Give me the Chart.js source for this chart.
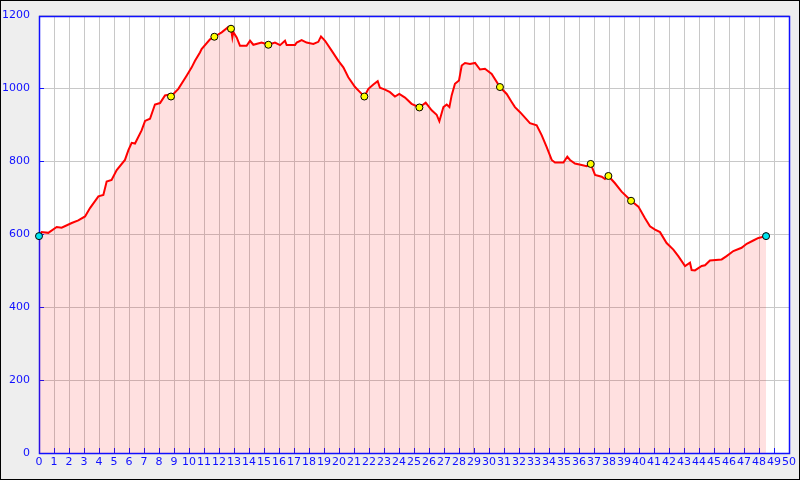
<!DOCTYPE html>
<html><head><meta charset="utf-8">
<script src="https://cdn.jsdelivr.net/npm/chart.js@4/dist/chart.umd.min.js"></script>
<style>html,body{margin:0;padding:0;background:#eeeeee;}canvas{display:block;}</style>
</head><body>
<canvas id="c" width="800" height="480"></canvas>
<script>
// distance along route (km)
const distKm = [0,0.18,0.62,1.18,1.51,2.18,2.62,3.07,3.4,3.96,4.29,4.51,4.84,5.18,5.73,5.96,6.18,6.4,6.84,7.07,7.4,7.73,8.07,8.4,8.62,8.8,9.29,9.84,10.18,10.4,10.73,10.84,11.4,11.69,12.18,12.62,12.8,12.89,12.95,13.18,13.4,13.84,14.07,14.29,14.84,15.29,15.73,16.07,16.4,16.51,17.07,17.18,17.51,17.84,18.29,18.62,18.8,19.07,19.51,19.96,20.29,20.62,21.07,21.4,21.69,21.96,22.29,22.58,22.73,23.07,23.4,23.73,24.02,24.4,24.84,25.36,25.78,26.18,26.51,26.69,26.96,27.18,27.36,27.51,27.73,28.0,28.18,28.4,28.73,29.07,29.4,29.73,30.18,30.73,31.18,31.51,31.73,32.07,32.73,33.18,33.51,33.84,34.18,34.4,34.96,35.22,35.4,35.73,36.18,36.51,36.78,37.07,37.51,37.73,37.96,38.4,38.84,39.47,39.96,40.4,40.73,41.07,41.4,41.84,42.29,42.62,43.07,43.4,43.51,43.73,44.18,44.4,44.73,45.51,45.84,46.29,46.84,47.18,47.62,47.96,48.47];
// elevation (m)
const elevM = [595,606,604,620,618,631,638,649,672,704,708,745,749,776,804,831,851,849,885,911,917,956,960,981,983,978,999,1035,1058,1076,1099,1108,1135,1142,1154,1169,1164,1140,1155,1140,1117,1117,1131,1120,1126,1120,1126,1119,1131,1119,1119,1126,1133,1126,1122,1128,1143,1131,1104,1076,1058,1031,1004,990,978,999,1011,1020,1002,997,990,978,985,975,958,948,961,940,928,910,949,956,949,981,1013,1022,1063,1070,1067,1070,1052,1054,1040,1004,985,963,949,935,905,899,872,840,804,797,797,813,804,794,790,787,793,763,758,752,760,740,717,692,676,644,622,613,606,576,558,540,513,522,502,501,513,515,528,531,540,554,563,574,583,590,595];
// waypoints
const wayKm = [8.8,11.69,12.8,15.29,21.69,25.36,30.73,36.78,37.96,39.47];
const wayM  = [978,1142,1164,1120,978,948,1004,793,760,692];
// start / end
const endKm = [0,48.47];
const endM  = [595,595];
// axis ticks
const xTicks = Array.from({length:51},(_,i)=>i);
const yTicks = [0,200,400,600,800,1000,1200];

const BLUE = '#1010ff';
const frame = {
  id:'frame',
  beforeDraw(ch){
    const c=ch.ctx, a=ch.chartArea;
    c.save();
    c.fillStyle='#eeeeee'; c.fillRect(0,0,800,480);
    c.strokeStyle='#000'; c.lineWidth=2; c.strokeRect(0,0,800,480);
    c.fillStyle='#ffffff'; c.fillRect(a.left,a.top,a.right-a.left,a.bottom-a.top);
    c.restore();
  },
  beforeDatasetsDraw(ch){
    const c=ch.ctx, a=ch.chartArea, xs=ch.scales.x, ys=ch.scales.y;
    c.save();
    c.strokeStyle=BLUE; c.lineWidth=1;
    c.beginPath();
    xTicks.forEach(v=>{const px=Math.round(xs.getPixelForValue(v))+0.5; c.moveTo(px,a.bottom); c.lineTo(px,a.bottom-5);});
    yTicks.forEach(v=>{const py=Math.round(ys.getPixelForValue(v))+0.5; c.moveTo(a.left,py); c.lineTo(a.left+5,py);});
    c.stroke();
    c.lineWidth=1.5;
    c.strokeRect(Math.round(a.left)+0.5,Math.round(a.top)+0.5,Math.round(a.right-a.left),Math.round(a.bottom-a.top));
    c.restore();
  }
};

new Chart(document.getElementById('c'),{
  type:'scatter',
  data:{datasets:[
    {type:'scatter',data:wayKm.map((x,i)=>({x,y:wayM[i]})),pointRadius:3.5,pointBackgroundColor:'#ffff00',pointBorderColor:'#000',pointBorderWidth:1,order:0,clip:false},
    {type:'scatter',data:endKm.map((x,i)=>({x,y:endM[i]})),pointRadius:3.5,pointBackgroundColor:'#00e5ee',pointBorderColor:'#000',pointBorderWidth:1,order:0,clip:false},
    {type:'line',data:distKm.map((x,i)=>({x,y:elevM[i]})),borderColor:'#ff0000',borderWidth:2,backgroundColor:'rgba(255,0,0,0.12)',fill:'origin',pointRadius:0,tension:0,order:1}
  ]},
  options:{
    responsive:false,animation:false,
    layout:{padding:{top:13,right:11,left:0,bottom:0}},
    plugins:{legend:{display:false},tooltip:{enabled:false}},
    scales:{
      x:{type:'linear',min:0,max:50,
        afterFit(s){s.height=27;},
        afterBuildTicks(s){s.ticks=xTicks.map(v=>({value:v}));},
        ticks:{autoSkip:false,maxRotation:0,minRotation:0,color:BLUE,font:{family:'DejaVu Sans',size:11},padding:3,callback:v=>String(v)},
        grid:{color:'#c8c8c8',lineWidth:1,drawTicks:false},
        border:{display:false}},
      y:{type:'linear',min:0,max:1200,
        afterFit(s){s.width=39;},
        afterBuildTicks(s){s.ticks=yTicks.map(v=>({value:v}));},
        ticks:{color:BLUE,font:{family:'DejaVu Sans',size:11},padding:9,callback:v=>String(v)},
        grid:{color:'#c8c8c8',lineWidth:1,drawTicks:false},
        border:{display:false}}
    }
  },
  plugins:[frame]
});
</script>
</body></html>
